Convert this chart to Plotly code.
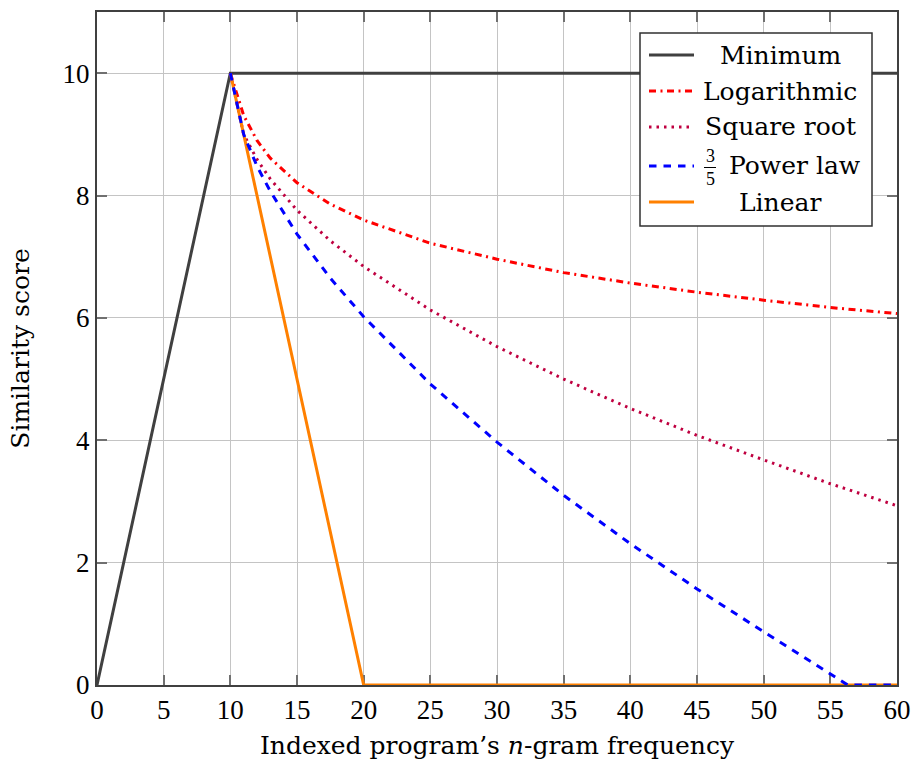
import plotly.graph_objects as go

# Indexed program's n-gram frequency and the similarity score for each weighting scheme
x_min = [0, 10, 60]
y_min = [0, 10, 10]

x_curve = [10, 11, 12, 13, 15, 17.5, 20, 25, 30, 35, 40, 45, 50, 55, 60]
y_log = [10, 9.31, 8.90, 8.61, 8.21, 7.86, 7.60, 7.22, 6.96, 6.74, 6.57, 6.42, 6.29, 6.17, 6.07]
y_sqrt = [10, 9.00, 8.59, 8.27, 7.76, 7.26, 6.84, 6.13, 5.53, 5.00, 4.52, 4.08, 3.68, 3.29, 2.93]

x_pow = [10, 11, 12, 13, 15, 17.5, 20, 25, 30, 35, 40, 45, 50, 55, 56.3, 60]
y_pow = [10, 9.00, 8.48, 8.07, 7.37, 6.65, 6.02, 4.92, 3.97, 3.10, 2.31, 1.57, 0.87, 0.19, 0, 0]

x_lin = [10, 20, 60]
y_lin = [10, 0, 0]

x_ticks = list(range(0, 61, 5))
y_ticks = list(range(0, 11, 2))

series = [
    ("Minimum", x_min, y_min, "#404040", "solid", 3),
    ("Logarithmic", x_curve, y_log, "#ff0000", "7px,4.5px,2px,4.5px", 3),
    ("Square root", x_curve, y_sqrt, "#bf0040", "2.5px,5px", 3),
    ("Power law", x_pow, y_pow, "#0000ff", "7.5px,7px", 3),
    ("Linear", x_lin, y_lin, "#ff8000", "solid", 3),
]
# drawing order: the linear curve goes under the power-law dashes along y = 0
draw_order = [0, 1, 2, 4, 3]

W, H = 913, 760
L, R, T, B = 97, 16, 12, 75
PW, PH = W - L - R, H - T - B


def px(v):
    return (v - L) / PW


def py(v):
    return (H - B - v) / PH


fig = go.Figure()
for i in draw_order:
    name, xs, ys, color, dash, width = series[i]
    fig.add_trace(go.Scatter(
        x=xs, y=ys, mode="lines", name=name,
        line=dict(color=color, dash=dash, width=width),
        showlegend=False, cliponaxis=False,
    ))

tick_font = dict(family="Liberation Serif", size=27, color="black")
title_font = dict(family="DejaVu Serif", size=25, color="black")

axis_common = dict(
    showgrid=True, gridcolor="#c4c4c4", gridwidth=1,
    showline=True, linecolor="#404040", linewidth=2, mirror="ticks",
    ticks="inside", ticklen=10, tickcolor="#707070", tickwidth=1.5,
    zeroline=False, tickfont=tick_font, layer="below traces",
    automargin=False,
)

fig.update_xaxes(range=[0, 60], tickvals=x_ticks,
                 title=dict(text="Indexed program’s <i>n</i>-gram frequency",
                            font=title_font, standoff=14),
                 **axis_common)
fig.update_yaxes(range=[0, 11], tickvals=y_ticks,
                 title=dict(text="Similarity score", font=title_font, standoff=26),
                 **axis_common)

# Legend box with centered entry labels
shapes = [dict(type="rect", xref="paper", yref="paper",
               x0=px(640), x1=px(872), y0=py(226), y1=py(33),
               line=dict(color="#303030", width=1.5), fillcolor="white", layer="above")]
annotations = []
rows_y = [55, 91, 127, 166, 202]
for (name, xs, ys, color, dash, width), ry in zip(series, rows_y):
    shapes.append(dict(type="line", xref="paper", yref="paper",
                       x0=px(649), x1=px(694), y0=py(ry), y1=py(ry),
                       line=dict(color=color, dash=dash, width=width), layer="above"))
    if name == "Power law":
        annotations.append(dict(xref="paper", yref="paper", x=px(727), y=py(ry),
                                text=name, showarrow=False, xanchor="left", yanchor="middle",
                                font=title_font))
        annotations.append(dict(xref="paper", yref="paper", x=px(710), y=py(156),
                                text="3", showarrow=False, xanchor="center", yanchor="middle",
                                font=dict(family="Liberation Serif", size=18, color="black")))
        annotations.append(dict(xref="paper", yref="paper", x=px(710), y=py(179),
                                text="5", showarrow=False, xanchor="center", yanchor="middle",
                                font=dict(family="Liberation Serif", size=18, color="black")))
        shapes.append(dict(type="line", xref="paper", yref="paper",
                           x0=px(704), x1=px(716), y0=py(167.5), y1=py(167.5),
                           line=dict(color="black", width=1), layer="above"))
    else:
        annotations.append(dict(xref="paper", yref="paper", x=px(780), y=py(ry),
                                text=name, showarrow=False, xanchor="center", yanchor="middle",
                                font=title_font))

fig.update_layout(
    width=W, height=H,
    margin=dict(l=L, r=R, t=T, b=B),
    paper_bgcolor="white", plot_bgcolor="white",
    shapes=shapes, annotations=annotations,
    showlegend=False,
)

fig.write_html("out.html")
